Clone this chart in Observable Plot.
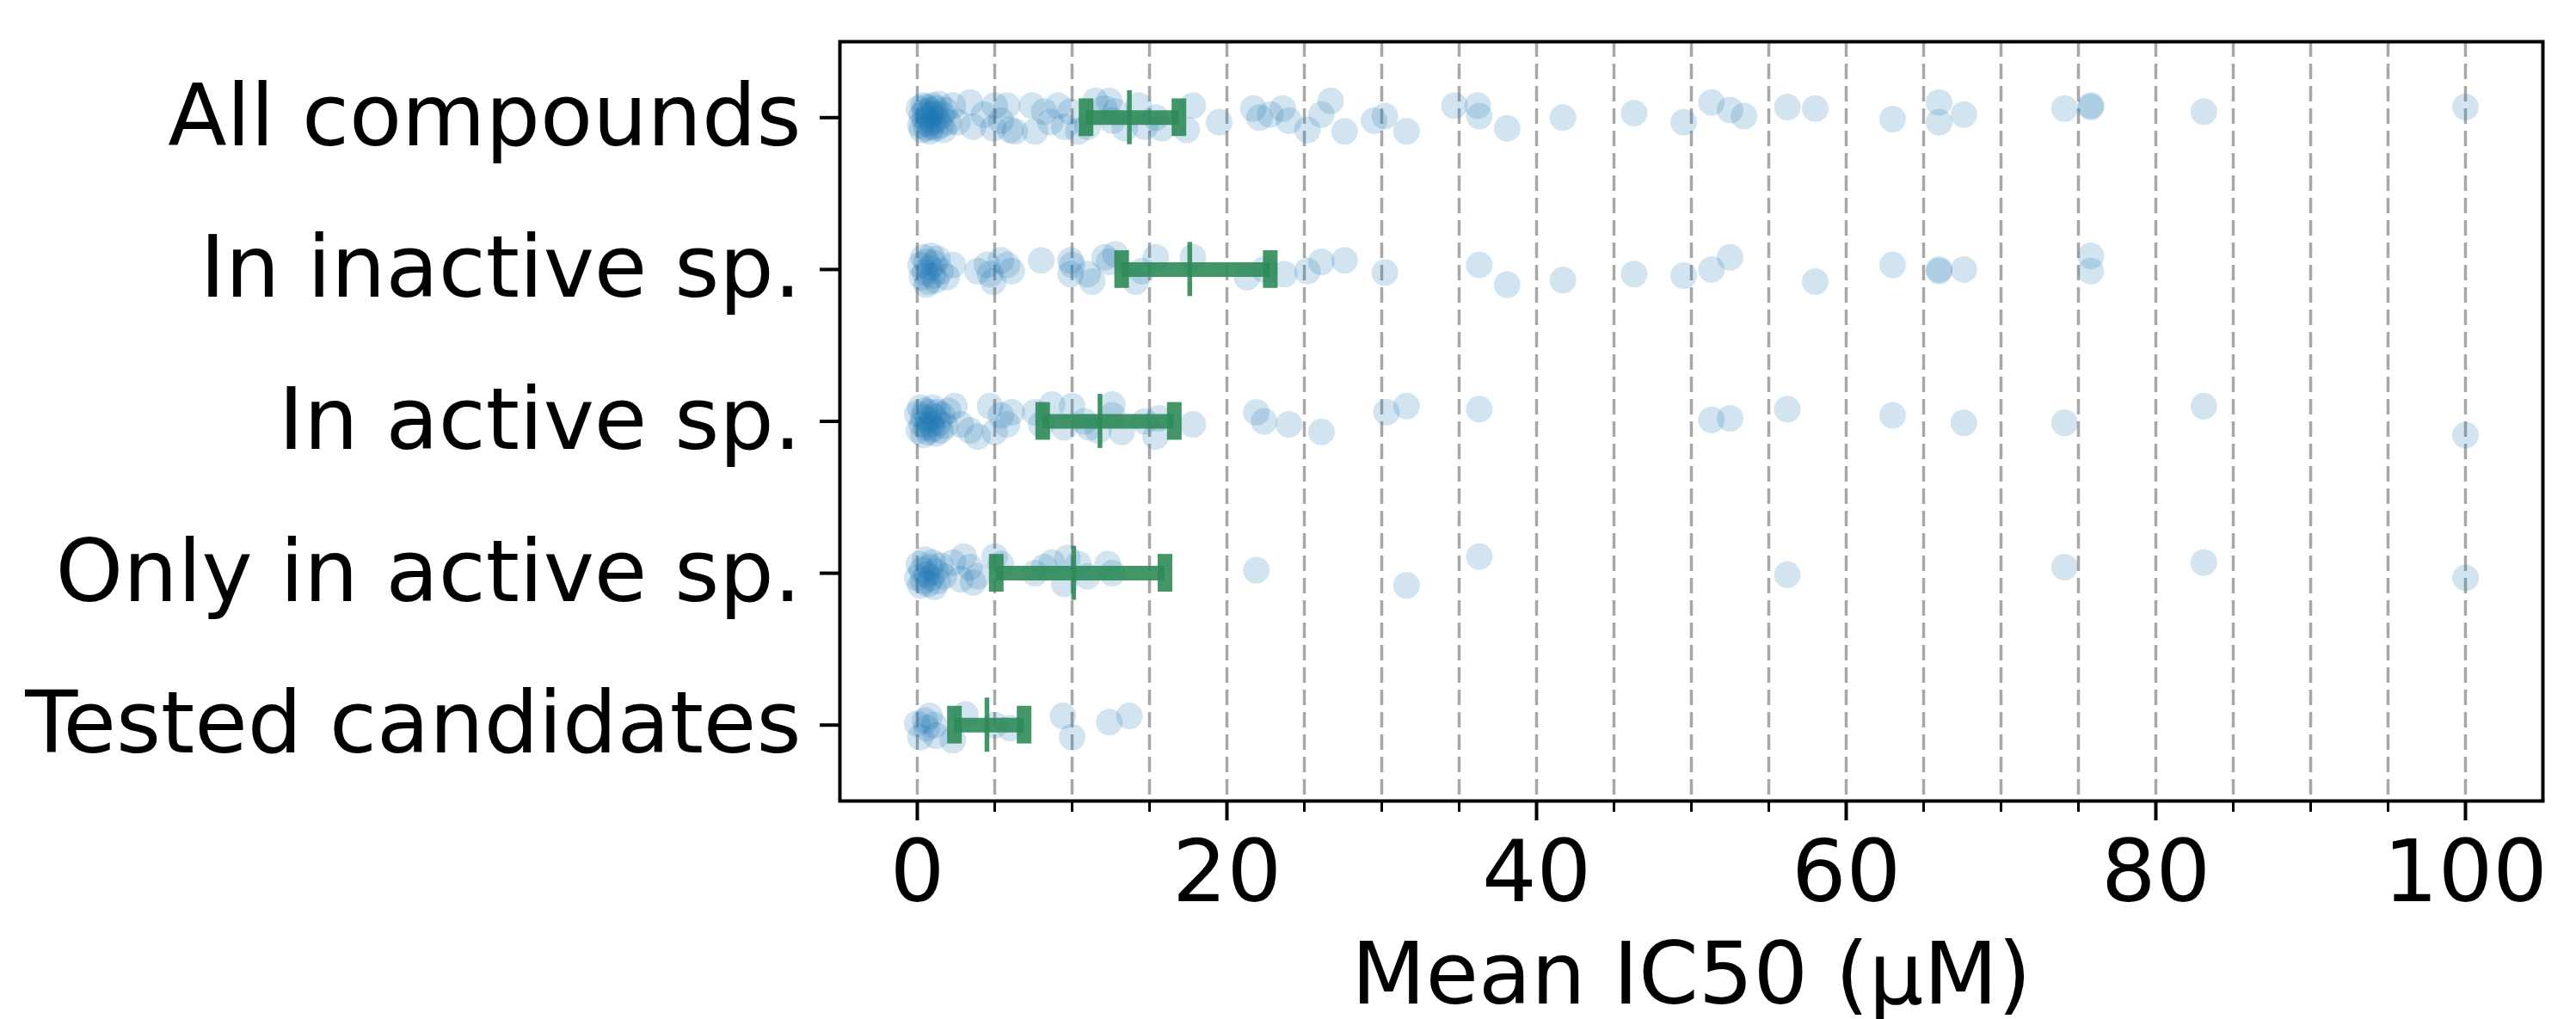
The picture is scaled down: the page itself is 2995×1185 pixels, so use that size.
<!DOCTYPE html>
<html>
<head>
<meta charset="utf-8">
<script src="https://cdn.jsdelivr.net/npm/d3@7"></script>
<script src="https://cdn.jsdelivr.net/npm/@observablehq/plot@0.6"></script>
<style>
  html, body { margin: 0; padding: 0; background: white; }
  #chart { width: 2995px; height: 1185px; }
</style>
</head>
<body>
<div id="chart"></div>
<script>
// Categories (top to bottom)
const categories = ["All compounds", "In inactive sp.", "In active sp.", "Only in active sp.", "Tested candidates"];

// Each point: [mean IC50 (µM), vertical jitter in category units]
const allCompounds = [
  [0.1,-0.06],[0.2,0.05],[0.3,-0.02],[0.3,0.08],[0.4,-0.08],[0.5,0.02],[0.5,-0.04],[0.6,0.07],[0.6,-0.07],
  [0.7,0.0],[0.7,0.04],[0.8,-0.05],[0.8,0.09],[0.9,-0.02],[0.9,0.06],[1.0,-0.08],[1.0,0.03],[1.1,-0.03],
  [1.2,0.07],[1.2,-0.06],[1.3,0.01],[1.4,-0.09],[1.5,0.05],[1.6,-0.02],[1.7,0.08],[1.8,-0.05],[2.0,0.03],
  [2.3,-0.08],[2.6,0.03],[3.4,-0.10],[3.6,0.06],[4.3,-0.02],[4.9,0.07],[5.0,-0.08],[5.4,0.02],[5.8,-0.08],
  [6.0,0.08],[6.3,0.09],[7.4,-0.08],[7.6,0.09],[8.2,-0.04],[8.6,0.03],[9.1,-0.08],[9.5,0.06],[9.9,-0.04],
  [10.4,0.09],[11.0,0.06],[11.5,-0.11],[12.1,-0.06],[12.4,-0.11],[12.6,0.02],[12.8,-0.04],[13.4,0.07],
  [14.3,-0.08],[14.7,0.06],[15.4,0.0],[15.8,0.07],[17.4,0.08],[17.8,-0.08],[19.5,0.03],[21.7,-0.06],
  [22.1,0.0],[22.8,-0.02],[23.6,-0.06],[24.0,0.02],[25.2,0.08],[26.1,-0.02],[26.7,-0.11],[27.6,0.09],
  [29.5,0.02],[30.2,-0.01],[31.6,0.09],[34.7,-0.08],[36.2,-0.08],[36.3,-0.01],[38.1,0.07],[41.7,0.0],
  [46.3,-0.03],[49.5,0.03],[51.3,-0.10],[52.5,-0.05],[53.4,-0.01],[56.2,-0.07],[58.0,-0.06],[63.0,0.01],
  [66.0,-0.10],[66.0,0.03],[67.6,-0.02],[74.1,-0.06],[75.8,-0.08],[75.8,-0.07],[83.1,-0.04],[100,-0.07]
];
const inInactive = [
  [0.2,-0.03],[0.3,0.05],[0.4,-0.08],[0.5,0.02],[0.6,-0.05],[0.7,0.08],[0.8,-0.01],[0.9,-0.09],[1.0,0.04],
  [1.1,-0.04],[1.2,0.07],[1.3,-0.07],[1.5,0.01],[0.6,0.10],
  [1.9,0.05],[2.3,-0.03],[3.9,0.01],[4.5,-0.03],[4.7,0.03],[4.9,0.08],[5.4,-0.06],[5.8,-0.03],[6.1,0.01],
  [8.0,-0.06],[9.9,-0.06],[9.9,0.03],[10.0,-0.03],[11.0,0.03],[11.3,0.08],[12.1,-0.08],[12.4,-0.05],
  [12.8,-0.10],[14.1,0.08],[14.5,0.01],[15.4,-0.08],[17.8,-0.08],[21.3,0.05],[22.4,0.0],[23.7,0.03],
  [25.2,0.01],[26.1,-0.05],[27.6,-0.06],[30.2,0.02],[36.3,-0.03],[38.1,0.10],[41.7,0.07],[46.3,0.03],
  [49.5,0.04],[51.3,0.0],[52.5,-0.08],[58.0,0.08],[63.0,-0.03],[66.0,0.0],[66.0,0.01],[67.6,0.0],
  [75.8,-0.09],[75.8,0.01]
];
const inActive = [
  [0.0,-0.05],[0.1,0.06],[0.2,-0.09],[0.3,0.02],[0.4,-0.03],[0.4,0.09],[0.5,-0.07],[0.6,0.04],[0.7,-0.01],
  [0.7,0.07],[0.8,-0.06],[0.9,0.02],[1.0,-0.09],[1.0,0.05],[1.1,-0.03],[1.2,0.08],[1.3,-0.06],[1.4,0.01],
  [1.5,0.06],[1.6,-0.04],[1.8,0.03],[2.0,-0.07],
  [2.4,-0.10],[2.8,0.02],[3.4,0.06],[3.9,0.10],[4.7,-0.10],[5.0,0.07],[5.4,-0.04],[5.8,0.02],[6.1,-0.06],
  [7.6,-0.06],[8.0,0.02],[8.7,-0.11],[9.5,0.04],[10.0,-0.10],[10.8,0.0],[11.1,0.04],[11.7,0.06],
  [12.6,-0.11],[12.6,-0.04],[13.2,0.07],[14.7,0.0],[15.4,0.10],[15.6,-0.02],[17.8,0.02],[21.9,-0.06],
  [22.4,0.0],[24.0,0.02],[26.1,0.07],[30.3,-0.06],[31.6,-0.10],[36.3,-0.08],[51.3,-0.01],[52.5,-0.02],
  [56.2,-0.08],[63.0,-0.04],[67.6,0.01],[74.1,0.01],[83.1,-0.10],[100,0.09]
];
const onlyInActive = [
  [0.0,0.03],[0.1,-0.06],[0.2,0.08],[0.3,-0.02],[0.4,0.05],[0.5,-0.09],[0.6,0.01],[0.7,0.07],[0.8,-0.04],
  [0.9,0.03],[1.0,-0.07],[1.1,0.09],[1.2,-0.01],[1.3,0.05],[1.5,-0.05],[1.7,0.02],
  [2.3,-0.07],[2.8,0.04],[3.0,-0.11],[3.4,-0.04],[3.6,0.06],[3.9,0.02],[5.0,-0.11],[5.4,-0.06],[7.6,0.0],
  [8.2,-0.04],[8.7,-0.07],[9.5,0.07],[9.7,-0.10],[10.4,-0.06],[11.0,0.02],[12.3,-0.06],[12.6,0.0],
  [21.9,-0.02],[31.6,0.08],[36.3,-0.11],[56.2,0.01],[74.1,-0.04],[83.1,-0.07],[100,0.03]
];
const testedCandidates = [
  [0.0,-0.01],[0.2,0.08],[0.5,-0.03],[0.6,0.02],[0.8,-0.06],[1.1,0.0],[1.2,0.07],[2.3,0.10],[3.1,-0.07],
  [5.0,0.0],[6.0,0.02],[9.4,-0.06],[10.0,0.08],[12.4,-0.02],[13.7,-0.06]
];

// Mean and confidence interval per category
const means = [13.7, 17.6, 11.8, 10.1, 4.5];
const ciLow = [10.9, 13.2, 8.1, 5.1, 2.4];
const ciHigh = [16.9, 22.8, 16.6, 16.0, 6.9];

// Axis ticks
const majorTicks = [0, 20, 40, 60, 80, 100];
const minorTicks = [5, 10, 15, 25, 30, 35, 45, 50, 55, 65, 70, 75, 85, 90, 95];
const gridTicks = [0, 5, 10, 15, 20, 25, 30, 35, 40, 45, 50, 55, 60, 65, 70, 75, 80, 85, 90, 95, 100];
const xLabel = "Mean IC50 (µM)";

const groups = [allCompounds, inInactive, inActive, onlyInActive, testedCandidates];
const points = groups.flatMap((arr, c) => arr.map(([v, j]) => ({c, v, j})));
const errs = categories.map((name, i) => ({i, name, mean: means[i], lo: ciLow[i], hi: ciHigh[i]}));
const caps = errs.flatMap(d => [{i: d.i, x: d.lo}, {i: d.i, x: d.hi}]);

const green = "#2e8b57";
const FONT = 100;

const chart = Plot.plot({
  width: 2995,
  height: 1185,
  marginLeft: 976,
  marginRight: 39,
  marginTop: 48,
  marginBottom: 254,
  style: {fontFamily: "DejaVu Sans", fontSize: FONT + "px", background: "white", color: "black", overflow: "visible"},
  x: {domain: [-5, 105]},
  y: {domain: [4.5, -0.5]},
  marks: [
    Plot.ruleX(gridTicks, {x: d => d, stroke: "#a8a8a8", strokeWidth: 3.5, strokeDasharray: "18,8"}),
    Plot.dot(points, {x: "v", y: d => d.c + d.j, r: 15.5, fill: "#1f77b4", fillOpacity: 0.2, stroke: "none"}),
    Plot.ruleY(errs, {y: "i", x1: "lo", x2: "hi", stroke: green, strokeWidth: 17, strokeOpacity: 0.9}),
    Plot.ruleX(caps, {x: "x", y1: d => d.i - 0.124, y2: d => d.i + 0.124, stroke: green, strokeWidth: 17, strokeOpacity: 0.9}),
    Plot.ruleX(errs, {x: "mean", y1: d => d.i - 0.178, y2: d => d.i + 0.178, stroke: green, strokeWidth: 5.5, strokeOpacity: 0.9}),
    Plot.frame({stroke: "black", strokeWidth: 4}),
    Plot.axisX({ticks: majorTicks, tickSize: 23, tickPadding: 22, strokeWidth: 4, fontSize: FONT, label: null, tickFormat: d => String(d)}),
    Plot.axisX({ticks: minorTicks, tickSize: 13, strokeWidth: 3, label: null, tickFormat: () => ""}),
    Plot.axisY({ticks: [0, 1, 2, 3, 4], tickSize: 23, tickPadding: 22, strokeWidth: 4, fontSize: FONT, label: null, tickFormat: i => categories[i]}),
    Plot.text([xLabel], {frameAnchor: "bottom", lineAnchor: "top", dy: 164, fontSize: FONT, fill: "black", text: d => d})
  ]
});
document.getElementById("chart").appendChild(chart);
</script>
</body>
</html>
